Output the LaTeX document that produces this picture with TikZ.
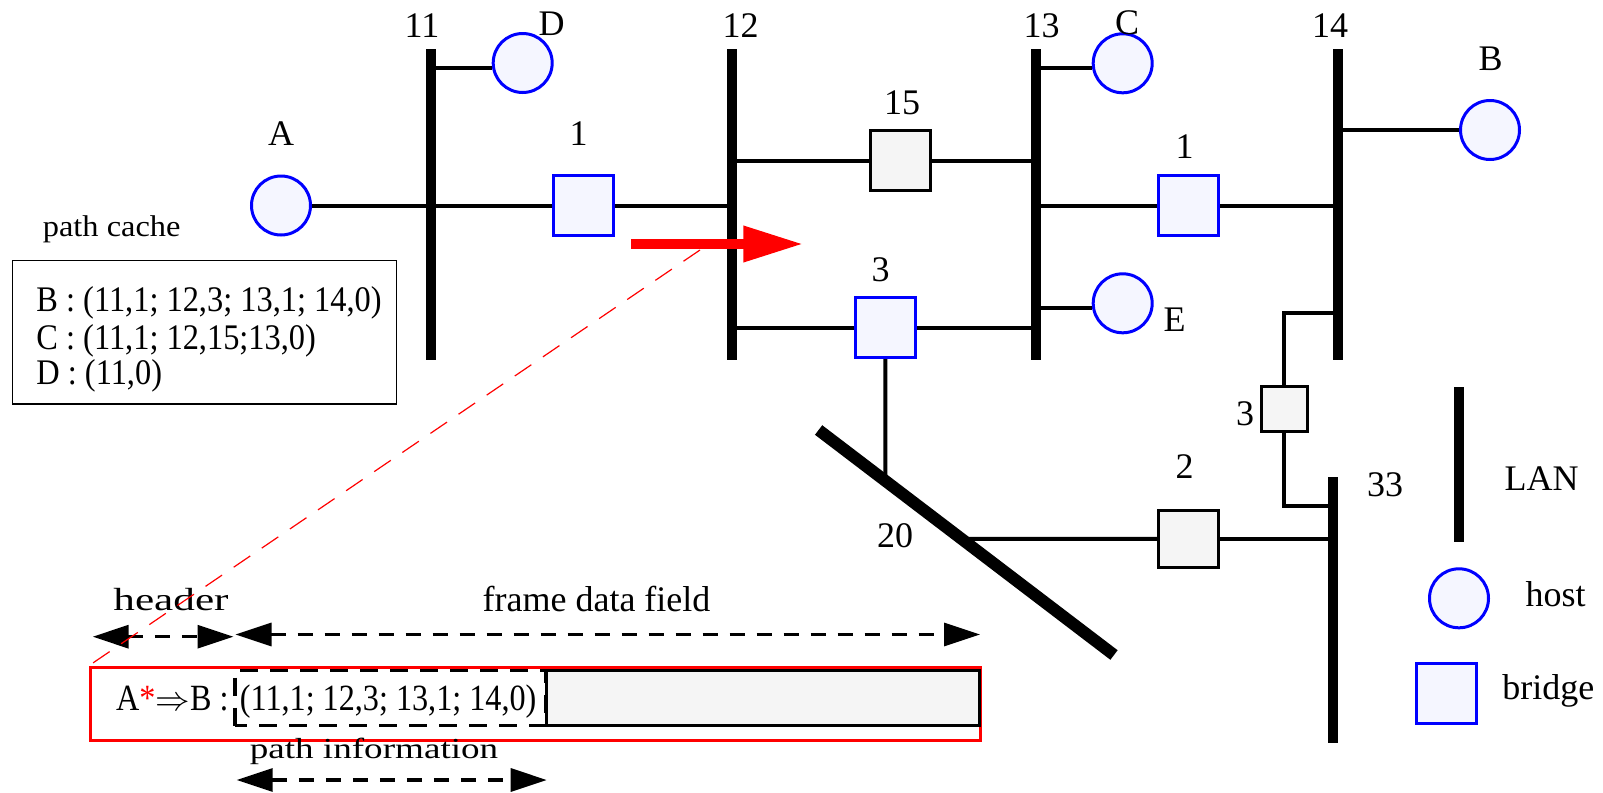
\documentclass[tikz,border=0pt]{standalone}
\usepackage{fontspec}
\setmainfont{Liberation Serif}
\newfontfamily\condfont[FakeStretch=0.9]{Liberation Serif}
\newfontfamily\framefont[FakeStretch=0.87]{Liberation Serif}
\newfontfamily\hdrfont[FakeStretch=1.35]{Liberation Serif}
\newfontfamily\pinfofont[FakeStretch=1.28]{Liberation Serif}
\newfontfamily\pcfont[FakeStretch=1.08]{Liberation Serif}
\usetikzlibrary{arrows.meta,calc}
\definecolor{hostfill}{RGB}{245,246,255}
\definecolor{grayfill}{RGB}{245,245,245}
\definecolor{hostblue}{RGB}{0,0,255}
\begin{document}
\begin{tikzpicture}[x=0.5pt,y=-0.5pt,
  lan/.style={fill=black, draw=none, inner sep=0, minimum width=5pt},
  host/.style={circle, draw=hostblue, fill=hostfill, line width=1.5pt, inner sep=0, minimum size=29.5pt},
  bridgeb/.style={rectangle, draw=hostblue, fill=hostfill, line width=1.5pt, inner sep=0, minimum size=30pt},
  bridgeg/.style={rectangle, draw=black, fill=grayfill, line width=1.5pt, inner sep=0, minimum size=30pt},
  link/.style={line width=2pt},
  lbl/.style={inner sep=0, anchor=base, font=\fontsize{18pt}{20pt}\selectfont},
  ctext/.style={inner sep=0, anchor=base west, font=\condfont\fontsize{18pt}{20pt}\selectfont},
  ftext/.style={inner sep=0, anchor=base west, font=\framefont\fontsize{18.5pt}{20pt}\selectfont},
  dimarrow/.style={line width=1.6pt, dash pattern=on 7.5pt off 6pt,
     {Triangle[length=18pt,width=11.5pt]}-{Triangle[length=18pt,width=11.5pt]}}]
\useasboundingbox (0,0) rectangle (1603,793);

% LANs
\node[lan, minimum height=155.5pt] (L11) at (430.7,204.5) {};
\node[lan, minimum height=155.5pt] (L12) at (732.3,204.5) {};
\node[lan, minimum height=155.5pt] (L13) at (1036,204.5) {};
\node[lan, minimum height=155.5pt] (L14) at (1338,204.5) {};
\node[lan, minimum height=133.3pt] (L33) at (1332.5,610) {};
\node[lan, minimum height=77.5pt] (Lleg) at (1459.3,464.2) {};
\coordinate (L20a) at (818.6,430);
\coordinate (L20b) at (1114,655);
\draw[line width=6pt] (L20a) -- (L20b);

% hosts
\node[host] (A) at (281,205.5) {};
\node[host] (D) at (522.7,63) {};
\node[host] (C) at (1122.7,63.3) {};
\node[host] (E) at (1122.7,303.3) {};
\node[host] (B) at (1490,130) {};
\node[host] (Hleg) at (1459,598.3) {};

% bridges
\node[bridgeb] (B1L) at (583,205.5) {};
\node[bridgeb] (B1R) at (1188.3,205.5) {};
\node[bridgeg] (B15) at (900.2,160.5) {};
\node[bridgeb] (B3) at (885.5,327.5) {};
\node[bridgeg, minimum height=28.5pt] (B2) at (1188.4,538.8) {};
\node[bridgeg, minimum size=22.8pt] (B3s) at (1284.3,409) {};
\node[bridgeb] (Bleg) at (1446,693.3) {};

% links
\draw[link] (A) -- (B1L);
\draw[link] (B1L) -- (B1L -| L12);
\draw[link] (B1R) -- (B1R -| L13);
\draw[link] (B1R) -- (B1R -| L14);
\draw[link] (B15) -- (B15 -| L12);
\draw[link] (B15) -- (B15 -| L13);
\draw[link] (B3) -- (B3 -| L12);
\draw[link] (B3) -- (B3 -| L13);
\draw[link] (B3) -- ($(L20a)!0.226!(L20b)$);
\draw[link] (B2) -- ($(L20a)!0.4836!(L20b)$);
\draw[link] (B2) -- (B2 -| L33);
\coordinate (k14) at (1338,313.3);
\coordinate (k33) at (1332.5,505.7);
\draw[link] (B3s.north) |- (k14);
\draw[link] (B3s.south) |- (k33);
\draw[link] ([yshift=-2.6pt]D.west) -- ([yshift=-2.6pt]D.west -| L11);
\draw[link] ([yshift=-2.5pt]C.west) -- ([yshift=-2.5pt]C.west -| L13);
\draw[link] ([yshift=-2.5pt]E.west) -- ([yshift=-2.5pt]E.west -| L13);
\draw[link] (B) -- (B -| L14);

% labels
\node[lbl] (tA) at (281,145) {A};
\node[lbl] (t11) at (422,37.3) {11};
\node[lbl] (tD) at (551.7,35) {D};
\node[lbl] (t12) at (740.7,37.3) {12};
\node[lbl] (t1L) at (578.7,145.7) {1};
\node[lbl] (t15) at (902,114.5) {15};
\node[lbl] (t13) at (1041.7,37.3) {13};
\node[lbl] (tC) at (1127,34) {C};
\node[lbl] (t14) at (1330,37.3) {14};
\node[lbl] (tB) at (1490.5,70) {B};
\node[lbl] (t1R) at (1184.6,158.3) {1};
\node[lbl] (tE) at (1174.5,331.7) {E};
\node[lbl] (t3) at (880.5,281.7) {3};
\node[lbl] (t3s) at (1245,425) {3};
\node[lbl] (t2) at (1184.5,478.3) {2};
\node[lbl] (t20) at (895,547.3) {20};
\node[lbl] (t33) at (1385,496) {33};
\node[lbl] (tLAN) at (1541.7,490) {LAN};
\node[lbl] (thost) at (1555.5,606) {host};
\node[lbl] (tbridge) at (1548.3,699.3) {bridge};

% path cache
\node[lbl, font=\pcfont\fontsize{15pt}{17pt}\selectfont] (tPC) at (111.7,236.7) {path cache};
\node[draw, line width=0.6pt, minimum width=192.2pt, minimum height=71.7pt, inner sep=0] (cache) at (204.5,332.3) {};
\node[ctext] (cB) at (36,311.7) {B : (11,1; 12,3; 13,1; 14,0)};
\node[ctext] (cC) at (36,349) {C : (11,1; 12,15;13,0)};
\node[ctext] (cD) at (36,384) {D : (11,0)};

% frame
\node[draw=red, line width=1.5pt, minimum width=445pt, minimum height=36.5pt, inner sep=0] (frame) at (535.7,703.5) {};
\node[draw, line width=1.5pt, fill=grayfill, minimum width=216.5pt, minimum height=27.5pt, inner sep=0] (data) at (763,698.2) {};
\node[draw, line width=1.6pt, dash pattern=on 9pt off 6pt, dash phase=3pt, minimum width=155.5pt, minimum height=27.5pt, inner sep=0] (pinfo) at (390.5,698.2) {};
\node[ftext] (ptext) at (239.5,710) {(11,1; 12,3; 13,1; 14,0)};
\node[ftext, anchor=base east] (hdrtext) at (229,710) {A{\color{red}*}$\Rightarrow$B :};

\node[lbl, font=\hdrfont\fontsize{16pt}{18pt}\selectfont] (thdr) at (171,610) {header};
\node[lbl] (tfdf) at (596.5,611.7) {frame data field};
\node[lbl, font=\pinfofont\fontsize{14.5pt}{16pt}\selectfont] (tpi) at (374,758.3) {path information};

\coordinate (h1) at (92.7,636.7);
\coordinate (h2) at (233.5,636.7);
\coordinate (f1) at (235.5,634.5);
\coordinate (f2) at (980,634.5);
\coordinate (p1) at (236.7,780);
\coordinate (p2) at (546.7,780);
\draw[dimarrow] (h1) -- (h2);
\draw[dimarrow] (f1) -- (f2);
\draw[dimarrow] (p1) -- (p2);

% red arrow and dashed pointer
\coordinate (ra1) at (631,244);
\coordinate (ra2) at (803.3,244);
\draw[red, line width=5pt, -{Triangle[length=30pt,width=17pt]}] (ra1) -- (ra2);
\coordinate (rd) at (700,250);
\draw[red, line width=0.6pt, dash pattern=on 10pt off 7pt] (rd) -- (frame.north west);
\end{tikzpicture}
\end{document}
